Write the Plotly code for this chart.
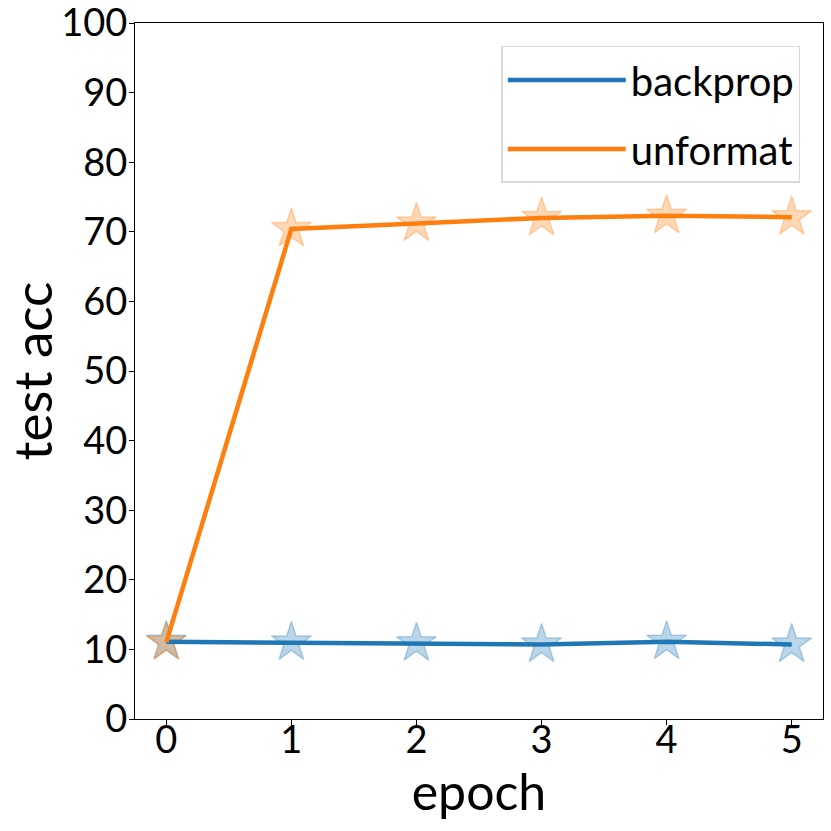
import plotly.graph_objects as go

epochs = [0, 1, 2, 3, 4, 5]
backprop = [11.1, 11.0, 10.9, 10.7, 11.1, 10.7]
unformat = [11.0, 70.4, 71.2, 72.0, 72.3, 72.1]
series_names = ["backprop", "unformat"]
colors = ["#1f77b4", "#ff7f0e"]
fills = ["rgba(31,119,180,0.3)", "rgba(255,127,14,0.3)"]

fig = go.Figure()
for name, vals, c, f in zip(series_names, [backprop, unformat], colors, fills):
    fig.add_trace(go.Scatter(x=epochs, y=vals, mode="markers", showlegend=False,
                             marker=dict(symbol="star", size=30, color=f,
                                         line=dict(color=f, width=1.5))))
for name, vals, c in zip(series_names, [backprop, unformat], colors):
    fig.add_trace(go.Scatter(x=epochs, y=vals, mode="lines", name=name,
                             legendgroup=name,
                             line=dict(color=c, width=4.5)))

font = "Lato"
fig.update_layout(
    width=831, height=831,
    margin=dict(l=135, r=8, t=23, b=112, autoexpand=False),
    paper_bgcolor="white", plot_bgcolor="white",
    font=dict(family=font, size=38, color="black"),
    legend=dict(x=0.967, y=0.967, xanchor="right", yanchor="top",
                bordercolor="#d9d9d9", borderwidth=1.5, bgcolor="white",
                font=dict(size=40), itemwidth=118, tracegroupgap=14,
                traceorder="grouped"),
    showlegend=True,
)
fig.update_xaxes(range=[-0.25, 5.25], tickvals=epochs, ticks="outside", ticklen=5,
                 tickcolor="black", showline=True, linecolor="black", linewidth=1.3,
                 mirror=True, showgrid=False, zeroline=False, automargin=False,
                 ticklabelstandoff=-18, ticklabeloverflow="allow",
                 title=dict(text="epoch", font=dict(size=50), standoff=0))
fig.update_yaxes(range=[0, 100], tickvals=list(range(0, 101, 10)), ticks="outside",
                 ticklen=5, tickcolor="black", showline=True, linecolor="black",
                 linewidth=1.3, mirror=True, showgrid=False, zeroline=False,
                 automargin=False, ticklabelstandoff=-6, ticklabeloverflow="allow",
                 title=dict(text="test acc", font=dict(size=53), standoff=26))
fig.write_html("out.html", config={"displayModeBar": False},
               post_script="document.body.style.margin='0';")
